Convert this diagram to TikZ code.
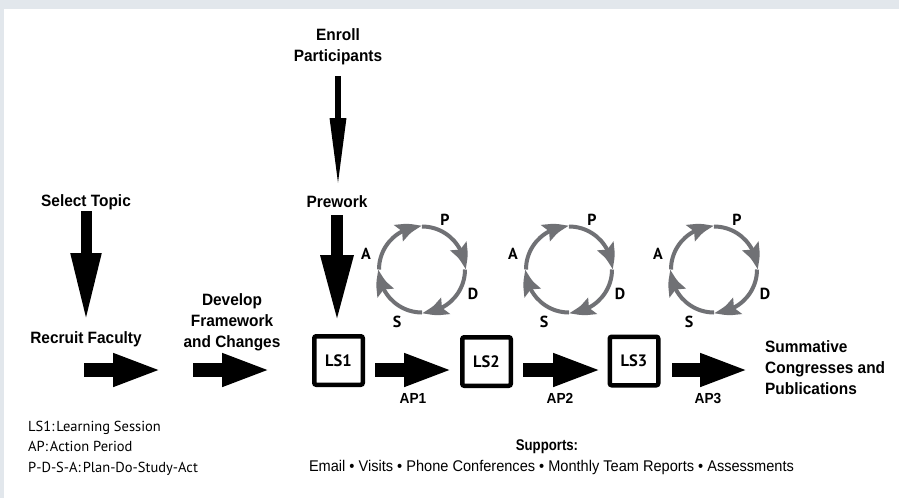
\documentclass[tikz,border=0pt]{standalone}
\usepackage{fontspec}
\setmainfont{Liberation Sans}
\newfontfamily\hdfont[FakeStretch=0.94]{Liberation Sans}
\newfontfamily\suppbold[FakeStretch=0.85]{Liberation Sans}
\newfontfamily\suppfont[FakeStretch=0.94]{Liberation Sans}
\newfontfamily\myfont{PT Sans}
\usetikzlibrary{arrows.meta,bending}
\definecolor{bandcol}{RGB}{226,231,236}
\definecolor{cyccol}{RGB}{112,113,117}
\tikzset{
  lbl/.style={font=\hdfont\bfseries\fontsize{16.4}{20.8}\selectfont, align=center, inner sep=0pt},
  aplbl/.style={font=\hdfont\bfseries\fontsize{14.6}{16}\selectfont, inner sep=0pt, anchor=base},
  lsbox/.style={draw, line width=4.5pt, rounded corners=2pt, minimum width=48.5pt, minimum height=48.5pt, inner sep=0pt, font=\myfont\bfseries\fontsize{16.5}{18}\selectfont},
  letter/.style={font=\myfont\bfseries\fontsize{16}{18}\selectfont, inner sep=0pt, anchor=base},
  legend/.style={font=\myfont\fontsize{14.5}{20.8}\selectfont, inner sep=0pt, anchor=base west},
  harrow/.style={line width=14pt, -{Triangle[length=49pt,width=30pt]}},
  cyc/.style={draw=cyccol, line width=4pt, -{Stealth[length=25pt,width=18pt,inset=4pt,bend]}, fill=none},
}
\begin{document}
\begin{tikzpicture}[x=1pt,y=1pt]
\useasboundingbox (0,0) rectangle (899,-498);
\fill[white] (0,0) rectangle (899,-498);
\fill[bandcol] (0,0) rectangle (899,-9);
\fill[bandcol] (0,0) rectangle (4,-498);

% text labels (multi-line nodes: base = last line's baseline)
\node[lbl, anchor=base] (enroll) at (338,-61) {Enroll\\Participants};
\node[lbl, anchor=base] (prework) at (337,-207) {Prework};
\node[lbl, anchor=base] (select) at (86,-206) {Select Topic};
\node[lbl, anchor=base] (recruit) at (86,-343) {Recruit Faculty};
\node[lbl, anchor=base] (develop) at (232,-347) {Develop\\Framework\\and Changes};
\node[lbl, align=left, anchor=base west] (summ) at (765,-394) {Summative\\Congresses and\\Publications};

% learning sessions
\node[lsbox] (ls1) at (338.5,-360.5) {LS1};
\node[lsbox] (ls2) at (486.5,-361.5) {LS2};
\node[lsbox] (ls3) at (634,-361) {LS3};

% vertical arrows
\coordinate (selA) at (86,-211);
\coordinate (selB) at (86,-322);
\draw[line width=11pt, -{Triangle[length=69pt,width=28pt]}] (selA) -- (selB);
\coordinate (enA) at (338,-76);
\coordinate (enB) at (338,-188);
\draw[line width=6.3pt, -{Triangle[length=70pt,width=15pt]}] (enA) -- (enB);
\coordinate (prA) at (337,-215);
\coordinate (prB) at (337,-323);
\draw[line width=12pt, -{Triangle[length=68pt,width=30pt]}] (prA) -- (prB);

% horizontal arrows
\coordinate (h1a) at (84,-370);  \coordinate (h1b) at (162,-370);
\coordinate (h2a) at (193,-370); \coordinate (h2b) at (271,-370);
\coordinate (ap1a) at (375,-370); \coordinate (ap1b) at (453,-370);
\coordinate (ap2a) at (523,-370); \coordinate (ap2b) at (602,-370);
\coordinate (ap3a) at (672,-370); \coordinate (ap3b) at (749,-370);
\draw[harrow] (h1a) -- (h1b);
\draw[harrow] (h2a) -- (h2b);
\draw[harrow] (ap1a) -- (ap1b);
\draw[harrow] (ap2a) -- (ap2b);
\draw[harrow] (ap3a) -- (ap3b);
\node[aplbl] (ap1) at (413,-403) {AP1};
\node[aplbl] (ap2) at (560,-403) {AP2};
\node[aplbl] (ap3) at (708,-403) {AP3};

% PDSA cycles
\foreach \cx [count=\i] in {422,569,714} {
  \coordinate (c\i) at (\cx,-269.5);
  \foreach \a in {180,90,0,-90} {
    \draw[cyc] ([shift={(\a:43)}]c\i) arc[start angle=\a, end angle=\a-90, radius=43];
  }
  \node[letter] (p\i) at ([shift={(23,44.5)}]c\i) {P};
  \node[letter] (a\i) at ([shift={(-56,10.5)}]c\i) {A};
  \node[letter] (d\i) at ([shift={(51,-29.5)}]c\i) {D};
  \node[letter] (s\i) at ([shift={(-25,-57.5)}]c\i) {S};
}

% legend
\node[legend] (leg1) at (28,-431) {LS1:\hspace{2pt}Learning Session};
\node[legend] (leg2) at (28,-451.7) {AP:\hspace{2pt}Action Period};
\node[legend] (leg3) at (28,-472.5) {P-D-S-A:\hspace{2pt}Plan-Do-Study-Act};

% supports
\node[font=\suppbold\bfseries\fontsize{15.5}{18}\selectfont, inner sep=0pt, anchor=base] (supp) at (547,-450) {Supports:};
\node[font=\suppfont\fontsize{15.5}{18}\selectfont, inner sep=0pt, anchor=base] (supplist) at (551.5,-471) {Email • Visits • Phone Conferences • Monthly Team Reports • Assessments};
\end{tikzpicture}
\end{document}
